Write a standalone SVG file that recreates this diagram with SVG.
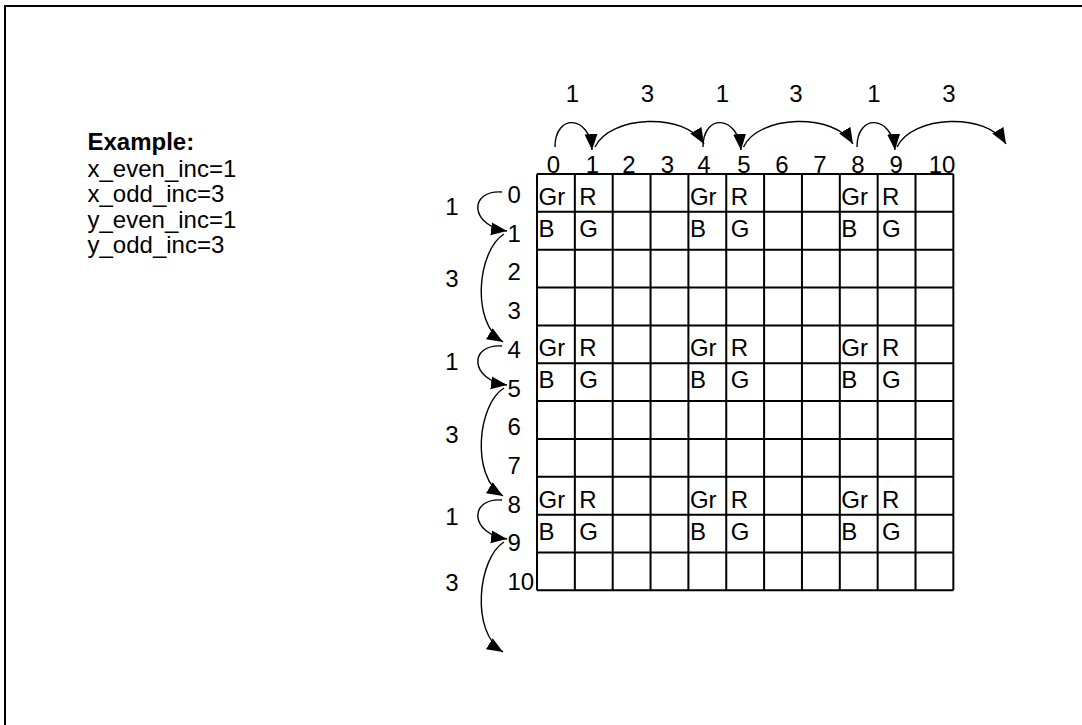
<svg xmlns="http://www.w3.org/2000/svg" width="1082" height="725" viewBox="0 0 1082 725">
<style>
text{font-family:"Liberation Sans",Arial,sans-serif;font-size:24px;fill:#000}
.b{font-weight:bold}
.m{text-anchor:middle}
.grid{fill:none;stroke:#000;stroke-width:2}
.arc{fill:none;stroke:#000;stroke-width:1.4;marker-end:url(#ah)}
</style>
<defs>
<marker id="ah" markerUnits="userSpaceOnUse" markerWidth="18" markerHeight="15" refX="16" refY="6.5" orient="auto">
<path d="M0,0 L16,6.5 L0,13 z" fill="#000"/>
</marker>
</defs>
<rect width="1082" height="725" fill="#fff"/>
<path d="M5,725 V6 H1082" fill="none" stroke="#000" stroke-width="2"/>

<g id="example">
<text class="b" x="87.5" y="150">Example:</text>
<text x="87.5" y="176.5">x_even_inc=1</text>
<text x="87.5" y="202">x_odd_inc=3</text>
<text x="87.5" y="227.5">y_even_inc=1</text>
<text x="87.5" y="253">y_odd_inc=3</text>
</g>

<g id="grid">
<path class="grid" d="M537,174V590.35M574.85,174V590.35M612.7,174V590.35M650.55,174V590.35M688.4,174V590.35M726.25,174V590.35M764.1,174V590.35M801.95,174V590.35M839.8,174V590.35M877.65,174V590.35M915.5,174V590.35M953.35,174V590.35M537,174H953.35M537,211.85H953.35M537,249.7H953.35M537,287.55H953.35M537,325.4H953.35M537,363.25H953.35M537,401.1H953.35M537,438.95H953.35M537,476.8H953.35M537,514.65H953.35M537,552.5H953.35M537,590.35H953.35"/>
<text x="538.5" y="205">Gr</text><text x="579.3" y="205">R</text>
<text x="689.9" y="205">Gr</text><text x="730.7" y="205">R</text>
<text x="841.3" y="205">Gr</text><text x="882.1" y="205">R</text>
<text x="538.5" y="236.9">B</text><text x="579.3" y="236.9">G</text>
<text x="689.9" y="236.9">B</text><text x="730.7" y="236.9">G</text>
<text x="841.3" y="236.9">B</text><text x="882.1" y="236.9">G</text>
<text x="538.5" y="356.4">Gr</text><text x="579.3" y="356.4">R</text>
<text x="689.9" y="356.4">Gr</text><text x="730.7" y="356.4">R</text>
<text x="841.3" y="356.4">Gr</text><text x="882.1" y="356.4">R</text>
<text x="538.5" y="388.3">B</text><text x="579.3" y="388.3">G</text>
<text x="689.9" y="388.3">B</text><text x="730.7" y="388.3">G</text>
<text x="841.3" y="388.3">B</text><text x="882.1" y="388.3">G</text>
<text x="538.5" y="507.8">Gr</text><text x="579.3" y="507.8">R</text>
<text x="689.9" y="507.8">Gr</text><text x="730.7" y="507.8">R</text>
<text x="841.3" y="507.8">Gr</text><text x="882.1" y="507.8">R</text>
<text x="538.5" y="539.7">B</text><text x="579.3" y="539.7">G</text>
<text x="689.9" y="539.7">B</text><text x="730.7" y="539.7">G</text>
<text x="841.3" y="539.7">B</text><text x="882.1" y="539.7">G</text>
</g>

<g id="col-labels">
<text class="m" x="553.5" y="172.5">0</text>
<text class="m" x="592.5" y="172.5">1</text>
<text class="m" x="629" y="172.5">2</text>
<text class="m" x="667.5" y="172.5">3</text>
<text class="m" x="704" y="172.5">4</text>
<text class="m" x="744" y="172.5">5</text>
<text class="m" x="782" y="172.5">6</text>
<text class="m" x="820" y="172.5">7</text>
<text class="m" x="858" y="172.5">8</text>
<text class="m" x="896.3" y="172.5">9</text>
<text class="m" x="942" y="172.5">10</text>
</g>

<g id="row-labels">
<text x="507.5" y="203">0</text>
<text x="507.5" y="241.7">1</text>
<text x="507.5" y="280.4">2</text>
<text x="507.5" y="319.1">3</text>
<text x="507.5" y="357.8">4</text>
<text x="507.5" y="396.5">5</text>
<text x="507.5" y="435.2">6</text>
<text x="507.5" y="473.9">7</text>
<text x="507.5" y="512.6">8</text>
<text x="507.5" y="551.3">9</text>
<text x="507.5" y="590">10</text>
</g>

<g id="connectors">
<path class="arc" d="M555,147 C555,113 590,115 592,150"/>
<path class="arc" d="M595,147 C610,115 685,112 704,144"/>
<path class="arc" d="M703,147 C703,113 738,115 741,150"/>
<path class="arc" d="M743.5,147 C758,115 834,112 853,144"/>
<path class="arc" d="M857,147 C857,113 892,115 895,150"/>
<path class="arc" d="M897,147 C912,115 987,112 1006,144"/>
<path class="arc" d="M502,192 C468,190 470,226 507,231"/>
<path class="arc" d="M504,234 C478,250 470,322 503,342"/>
<path class="arc" d="M502,346 C468,344 470,380 507,385"/>
<path class="arc" d="M504,388 C478,404 470,476 503,496"/>
<path class="arc" d="M502,500 C468,498 470,534 507,539"/>
<path class="arc" d="M504,542 C478,558 470,632 503,652"/>
</g>

<g id="step-labels">
<text class="m" x="572.5" y="101.5">1</text>
<text class="m" x="647.5" y="101.5">3</text>
<text class="m" x="722.5" y="101.5">1</text>
<text class="m" x="796" y="101.5">3</text>
<text class="m" x="874" y="101.5">1</text>
<text class="m" x="949" y="101.5">3</text>
<text class="m" x="452" y="215">1</text>
<text class="m" x="452" y="287">3</text>
<text class="m" x="452" y="370">1</text>
<text class="m" x="452" y="443">3</text>
<text class="m" x="452" y="525">1</text>
<text class="m" x="452" y="591">3</text>
</g>
</svg>
